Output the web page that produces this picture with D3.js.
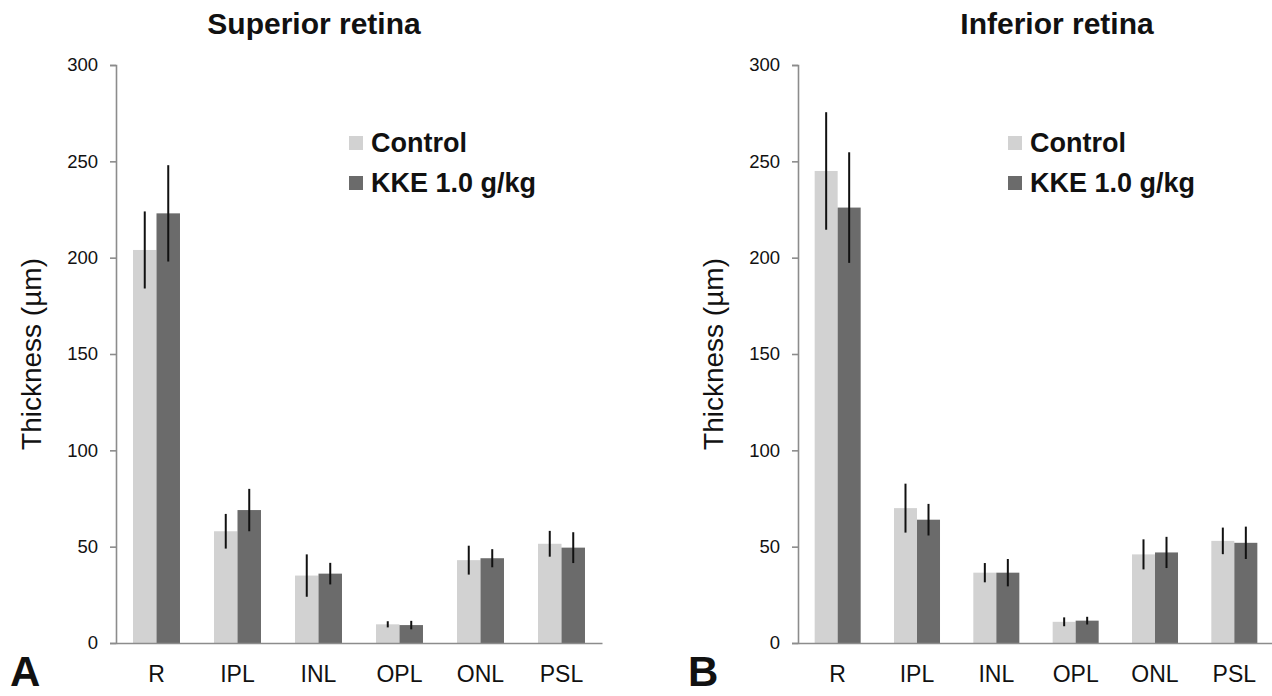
<!DOCTYPE html>
<html>
<head>
<meta charset="utf-8">
<script src="https://cdn.jsdelivr.net/npm/d3@7"></script>
<style>
  html, body { margin: 0; padding: 0; background: #fff; }
  svg { display: block; font-family: "Liberation Sans", Arial, sans-serif; }
</style>
</head>
<body>
<svg id="chart" width="1272" height="696"></svg>
<script>
// ---- data ----
const categories = ["R", "IPL", "INL", "OPL", "ONL", "PSL"];
const seriesNames = ["Control", "KKE 1.0 g/kg"];
const yTicks = [0, 50, 100, 150, 200, 250, 300];

const superiorControl    = [204, 58, 35, 9.7, 43, 51.5];
const superiorControlErr = [20, 9, 11, 1.6, 7.5, 6.7];
const superiorKKE        = [223, 69, 36, 9.3, 44, 49.5];
const superiorKKEErr     = [25, 11, 5.6, 2.2, 4.7, 8];

const inferiorControl    = [245, 70, 36.5, 11, 46, 53];
const inferiorControlErr = [30.5, 12.7, 5, 2.3, 7.8, 6.9];
const inferiorKKE        = [226, 64, 36.5, 11.6, 47, 52];
const inferiorKKEErr     = [28.7, 8.2, 7.1, 2, 8.1, 8.4];

const colors = ["#d2d2d2", "#6b6b6b"];
const axisColor = "#8c8c8c";

const svg = d3.select("#chart");

function panel(opts) {
  const g = svg.append("g");
  const x0 = d3.scaleBand().domain(categories)
    .range([opts.x0, opts.x1]).paddingInner(0.42).paddingOuter(0.21);
  const x1 = d3.scaleBand().domain(seriesNames).range([0, x0.bandwidth()]);
  const y = d3.scaleLinear().domain([0, 300]).range([643, 65]);
  const color = d3.scaleOrdinal().domain(seriesNames).range(colors);

  const rows = [];
  categories.forEach((c, i) => {
    rows.push({cat: c, s: seriesNames[0], v: opts.control[i], e: opts.controlErr[i]});
    rows.push({cat: c, s: seriesNames[1], v: opts.kke[i], e: opts.kkeErr[i]});
  });

  // y axis
  const yAxis = g.append("g").attr("transform", `translate(${opts.x0},0)`)
    .call(d3.axisLeft(y).tickValues(yTicks).tickSize(6).tickPadding(12).tickFormat(d3.format("d")));
  yAxis.select(".domain").attr("stroke", axisColor).attr("stroke-width", 1.6);
  yAxis.selectAll(".tick line").attr("stroke", axisColor).attr("stroke-width", 1.6);
  yAxis.selectAll(".tick text").attr("font-size", 18.5).attr("fill", "#111")
    .attr("font-family", "Liberation Sans, Arial, sans-serif");

  // bars
  g.selectAll("rect.bar").data(rows).enter().append("rect")
    .attr("class", "bar")
    .attr("x", d => x0(d.cat) + x1(d.s))
    .attr("width", x1.bandwidth())
    .attr("y", d => y(d.v))
    .attr("height", d => y(0) - y(d.v))
    .attr("fill", d => color(d.s));

  // error bars
  g.selectAll("line.err").data(rows).enter().append("line")
    .attr("class", "err")
    .attr("x1", d => x0(d.cat) + x1(d.s) + x1.bandwidth() / 2)
    .attr("x2", d => x0(d.cat) + x1(d.s) + x1.bandwidth() / 2)
    .attr("y1", d => y(d.v + d.e))
    .attr("y2", d => y(d.v - d.e))
    .attr("stroke", "#111").attr("stroke-width", 2);

  // x axis
  const xAxis = g.append("g").attr("transform", `translate(0,${y(0)})`)
    .call(d3.axisBottom(x0).tickSize(0).tickPadding(0).tickSizeOuter(0));
  xAxis.select(".domain").attr("stroke", axisColor).attr("stroke-width", 1.6);
  xAxis.selectAll(".tick text").attr("font-size", 23).attr("fill", "#111")
    .attr("dy", 0).attr("y", 39)
    .attr("font-family", "Liberation Sans, Arial, sans-serif");

  // y title
  g.append("text")
    .attr("transform", `translate(${opts.yTitleX},${(y(0) + y(300)) / 2}) rotate(-90)`)
    .attr("text-anchor", "middle")
    .attr("font-size", 28).attr("fill", "#111")
    .text("Thickness (µm)");

  // title
  g.append("text")
    .attr("x", opts.titleX).attr("y", 34)
    .attr("text-anchor", "middle")
    .attr("font-size", 30).attr("font-weight", "bold").attr("fill", "#111")
    .text(opts.title);

  // legend
  const lg = g.append("g").attr("transform", `translate(${opts.legendX},0)`);
  seriesNames.forEach((s, i) => {
    lg.append("rect").attr("x", 0).attr("y", 136 + i * 40)
      .attr("width", 14).attr("height", 14).attr("fill", color(s));
    lg.append("text").attr("x", 22).attr("y", 152 + i * 40)
      .attr("font-size", 27).attr("font-weight", "bold").attr("fill", "#111")
      .text(s);
  });

  // panel letter
  g.append("text").attr("x", opts.letterX).attr("y", 686)
    .attr("font-size", 42).attr("font-weight", "bold").attr("fill", "#111")
    .text(opts.letter);
}

panel({
  x0: 116, x1: 602,
  control: superiorControl, controlErr: superiorControlErr,
  kke: superiorKKE, kkeErr: superiorKKEErr,
  title: "Superior retina", titleX: 314, yTitleX: 41, legendX: 349,
  letter: "A", letterX: 10
});

panel({
  x0: 798, x1: 1274,
  control: inferiorControl, controlErr: inferiorControlErr,
  kke: inferiorKKE, kkeErr: inferiorKKEErr,
  title: "Inferior retina", titleX: 1057, yTitleX: 723, legendX: 1008,
  letter: "B", letterX: 688
});
</script>
</body>
</html>
